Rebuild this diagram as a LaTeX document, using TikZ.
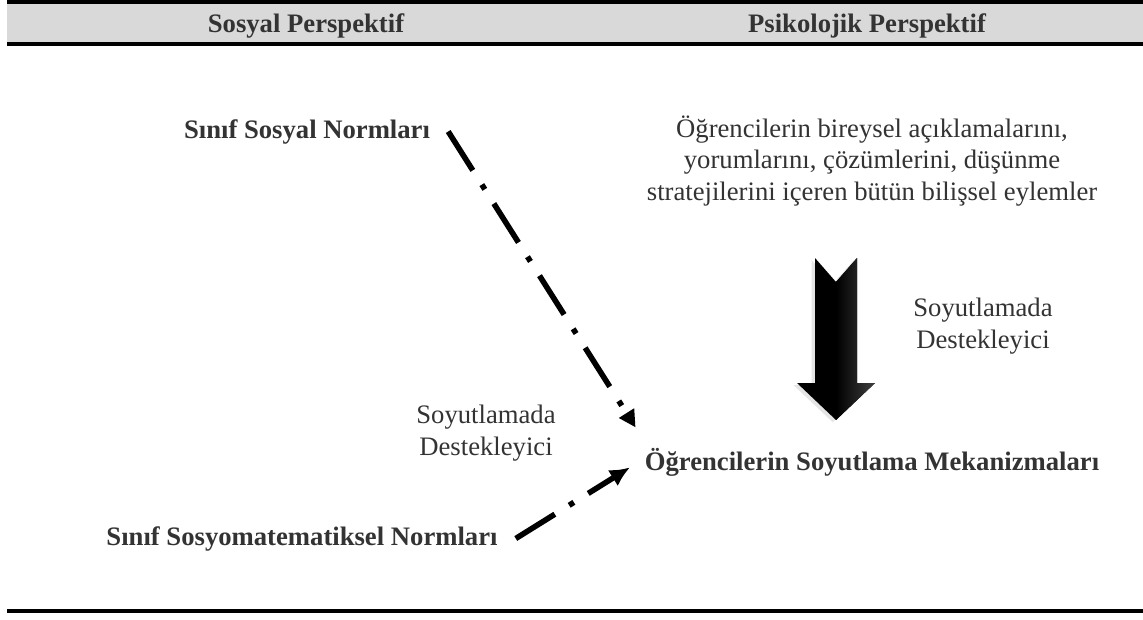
\documentclass[tikz,border=0pt]{standalone}
\usepackage{fontspec}
\setmainfont{Liberation Serif}
\usetikzlibrary{arrows.meta, positioning, shadows}

\definecolor{hdrgray}{HTML}{D9D9D9}
\definecolor{txtgray}{HTML}{333333}

\tikzset{
  txt/.style={inner sep=0pt, anchor=base, text=txtgray, align=center,
    font=\fontsize{12}{14}\selectfont},
  hdr/.style={txt, font=\fontsize{12}{14}\selectfont\bfseries},
  dashdot/.style={line width=2.5pt,
    dash pattern=on 20.7pt off 7.6pt on 2.5pt off 7.6pt},
}

\begin{document}
\begin{tikzpicture}[x=0.45pt, y=-0.45pt]
  \path[use as bounding box, fill=white] (0,0) rectangle (1143,619);
  \fill[hdrgray] (7,4) rectangle (1143,42);
  \draw[line width=1.8pt] (7,2) -- (1143,2);
  \draw[line width=1.8pt] (7,44) -- (1143,44);
  \draw[line width=2.2pt] (7,611) -- (1143,611);

  \node[hdr] (socpers) at (306,32) {Sosyal Perspektif};
  \node[hdr] (psypers) at (867,32) {Psikolojik Perspektif};
  \node[hdr] (socnorm) at (307,138) {Sınıf Sosyal Normları};
  \node[hdr] (mathnorm) at (302,545) {Sınıf Sosyomatematiksel Normları};
  \node[hdr] (mech) at (872,470) {Öğrencilerin Soyutlama Mekanizmaları};
  \node[txt] (cogn) at (872,200) {Öğrencilerin bireysel açıklamalarını,\\
    yorumlarını, çözümlerini, düşünme\\
    stratejilerini içeren bütün bilişsel eylemler};
  \node[txt] (suppl) at (486,455) {Soyutlamada\\Destekleyici};
  \node[txt] (suppr) at (983,348) {Soyutlamada\\Destekleyici};

  \draw[dashdot, -{Triangle[length=7.6pt,width=7.6pt]}]
    ([xshift=8pt]socnorm.east) -- ([xshift=-4pt,yshift=9pt]mech.north west);
  \draw[dashdot, -{Latex[length=9pt,width=8.5pt]}]
    ([xshift=8pt]mathnorm.east) -- ([xshift=-6.5pt,yshift=-2.5pt]mech.west);

  \fill[black, drop shadow={shadow xshift=-1.5pt, shadow yshift=-1pt, opacity=0.2}]
    (815,258) -- (836,282) -- (857,258) -- (857,383) -- (875,383)
    -- (836,420) -- (797,383) -- (815,383) -- cycle;
  \shade[left color=black, right color=black!75]
    (836,282) -- (857,258) -- (857,383) -- (875,383) -- (836,420) -- cycle;
\end{tikzpicture}
\end{document}
